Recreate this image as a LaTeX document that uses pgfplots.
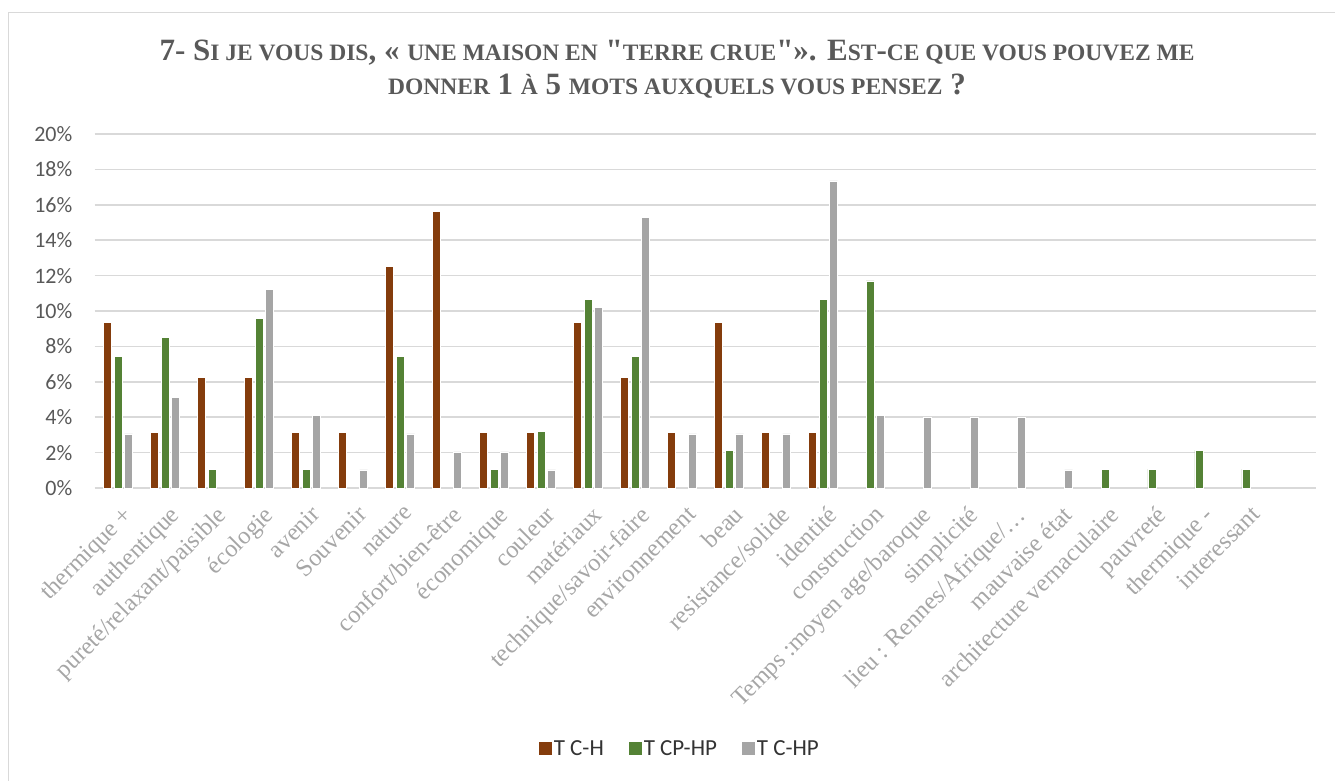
\documentclass[border=0pt]{standalone}
\usepackage{pgfplots}
\pgfplotsset{compat=1.18}
\usepackage{fontspec}
\setmainfont{Carlito}
\newfontfamily\serif{Liberation Serif}
\definecolor{cH}{HTML}{843C0C}
\definecolor{cCP}{HTML}{548235}
\definecolor{cHP}{HTML}{A5A5A5}
\definecolor{gridc}{HTML}{D9D9D9}
\definecolor{tickc}{HTML}{595959}
\definecolor{xlab}{HTML}{A6A6A6}
\newcommand\s[1]{{\fontsize{23.5bp}{26bp}\selectfont #1}}
\begin{document}
\begin{tikzpicture}
\useasboundingbox (0bp,0bp) rectangle (1335bp,781bp);
\draw[gridc, line width=1bp] (8.5bp,0bp) -- (8.5bp,768bp) -- (1335bp,768bp);
\node[anchor=base, text=tickc, inner sep=0pt, font=\serif\bfseries\fontsize{31bp}{34bp}\selectfont] at (677bp,720bp)
 {7- S\s{I JE VOUS DIS}, « \s{UNE MAISON EN} "\s{TERRE CRUE}"». E\s{ST}-\s{CE QUE VOUS POUVEZ ME}};
\node[anchor=base, text=tickc, inner sep=0pt, font=\serif\bfseries\fontsize{31bp}{34bp}\selectfont] at (677bp,686bp)
 {\s{DONNER} 1 \s{À} 5 \s{MOTS AUXQUELS VOUS PENSEZ} ?};
\begin{axis}[
  at={(94.5bp,293bp)}, anchor=south west,
  scale only axis, width=1222bp, height=354bp,
  xmin=-0.5, xmax=25.5, ymin=0, ymax=20,
  enlargelimits=false, clip=false,
  ybar=2.7bp, bar width=8bp,
  axis line style={draw=none},
  major tick length=0pt,
  ymajorgrids, grid style={gridc, line width=1.5bp},
  ytick={0,2,...,20},
  yticklabels={0\%,2\%,4\%,6\%,8\%,10\%,12\%,14\%,16\%,18\%,20\%},
  yticklabel style={font=\fontsize{22bp}{22bp}\selectfont, text=tickc, inner sep=0pt, anchor=east, xshift=-22bp},
  xtick={0,...,24},
  xticklabels={{thermique +},{authentique},{pureté/relaxant/paisible},{écologie},{avenir},{Souvenir},{nature},{confort/bien-être},{économique},{couleur},{matériaux},{technique/savoir-faire},{environnement},{beau},{resistance/solide},{identité},{construction},{Temps :moyen age/baroque},{simplicité},{lieu : Rennes/Afrique/…},{mauvaise état},{architecture vernaculaire},{pauvreté},{thermique -},{interessant}},
  xticklabel style={font=\serif\fontsize{24.5bp}{24.5bp}\selectfont, text=xlab, rotate=45, anchor=north east, inner sep=0pt, xshift=-9bp, yshift=-14bp},
  legend style={at={(axis description cs:0.479,-0.737)}, anchor=center, draw=none, fill=none,
    legend columns=3, font=\fontsize{23bp}{23bp}\selectfont, text=black!80,
    /tikz/every even column/.append style={column sep=23bp}},
  legend image code/.code={\fill[#1, draw=none] (0bp,-6.5bp) rectangle (13bp,6.5bp);},
  every axis plot/.append style={draw=white, line width=0.6bp},
]
\addplot[fill=cH] coordinates {(0,9.375) (1,3.125) (2,6.25) (3,6.25) (4,3.125) (5,3.125) (6,12.5) (7,15.625) (8,3.125) (9,3.125) (10,9.375) (11,6.25) (12,3.125) (13,9.375) (14,3.125) (15,3.125)};
\addplot[fill=cCP] coordinates {(0,7.45) (1,8.51) (2,1.06) (3,9.57) (4,1.06) (6,7.45) (8,1.06) (9,3.19) (10,10.64) (11,7.45) (13,2.13) (15,10.64) (16,11.70) (21,1.06) (22,1.06) (23,2.13) (24,1.06)};
\addplot[fill=cHP] coordinates {(0,3.06) (1,5.10) (3,11.22) (4,4.08) (5,1.02) (6,3.06) (7,2.04) (8,2.04) (9,1.02) (10,10.20) (11,15.31) (12,3.06) (13,3.06) (14,3.06) (15,17.35) (16,4.08) (17,4.0) (18,4.0) (19,4.0) (20,1.02)};
\legend{T C-H, T CP-HP, T C-HP}
\end{axis}
\end{tikzpicture}
\end{document}
